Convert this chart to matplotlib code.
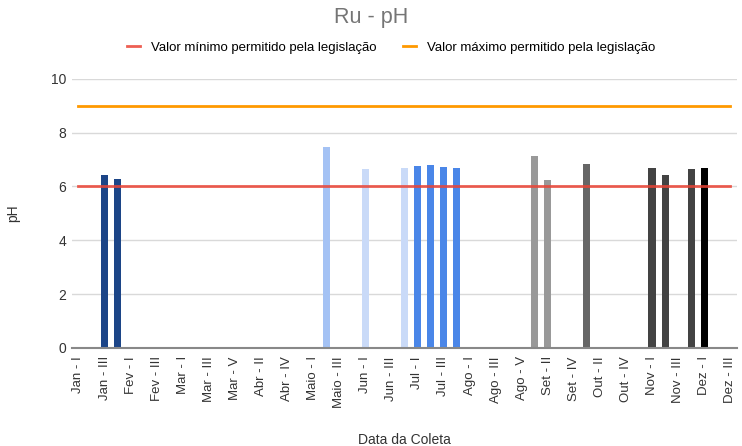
import matplotlib.pyplot as plt
import numpy as np

plt.rcParams['font.family'] = ['Liberation Sans', 'DejaVu Sans']

# categories (sample dates), in order
months = ['Jan', 'Fev', 'Mar', 'Abr', 'Maio', 'Jun', 'Jul', 'Ago', 'Set', 'Out', 'Nov', 'Dez']
weeks_per_month = [4, 4, 5, 5, 4, 4, 4, 5, 4, 5, 4, 3]
roman = ['I', 'II', 'III', 'IV', 'V']
categories = [f'{m} - {roman[i]}' for m, n in zip(months, weeks_per_month) for i in range(n)]

# measured pH values
sample_dates = ['Jan - III', 'Jan - IV', 'Maio - II', 'Jun - I', 'Jun - IV',
                'Jul - I', 'Jul - II', 'Jul - III', 'Jul - IV',
                'Set - I', 'Set - II', 'Out - I',
                'Nov - I', 'Nov - II', 'Nov - IV', 'Dez - I']
ph_values = [6.42, 6.28, 7.47, 6.64, 6.67,
             6.74, 6.79, 6.73, 6.68,
             7.13, 6.25, 6.82,
             6.68, 6.43, 6.64, 6.68]
bar_colors = ['#1c4587', '#1c4587', '#a4c2f4', '#c9daf8', '#c9daf8',
              '#4a86e8', '#4a86e8', '#4a86e8', '#4a86e8',
              '#999999', '#999999', '#666666',
              '#434343', '#434343', '#434343', '#000000']

ph_min = 6
ph_max = 9

fig = plt.figure(figsize=(7.42, 4.46), dpi=100)
ax = fig.add_axes([0.097, 0.22, 0.896, 0.6035])

x = np.arange(len(categories))
pos = [categories.index(d) for d in sample_dates]
ax.bar(pos, ph_values, width=0.55, color=bar_colors, zorder=2)

ax.plot([x[0], x[-1]], [ph_min, ph_min], color='#ea4335', lw=2, alpha=0.85,
        label='Valor mínimo permitido pela legislação', zorder=3)
ax.plot([x[0], x[-1]], [ph_max, ph_max], color='#ff9900', lw=2,
        label='Valor máximo permitido pela legislação', zorder=3)

ax.set_xlim(-0.5, len(categories) - 0.5)
ax.set_ylim(0, 10)
ax.set_yticks([0, 2, 4, 6, 8, 10])
ax.set_xticks(x[::2])
ax.set_xticklabels(categories[::2], rotation=90, fontsize=9.5, color='#333333')
ax.tick_params(axis='x', length=0, pad=6)
ax.tick_params(axis='y', length=0, labelsize=10, colors='#333333', pad=4)
ax.yaxis.grid(True, color='#d9d9d9', lw=1)
ax.set_axisbelow(True)
for s in ['top', 'right', 'left']:
    ax.spines[s].set_visible(False)
ax.spines['bottom'].set_color('#888888')
ax.spines['bottom'].set_linewidth(1.5)
ax.spines['bottom'].set_zorder(4)

ax.set_ylabel('pH', fontsize=10, color='#333333', labelpad=22)
ax.set_xlabel('Data da Coleta', fontsize=10, color='#333333', labelpad=18)

fig.suptitle('Ru - pH', y=0.985, fontsize=15.5, color='#757575')
fig.legend(loc='center', bbox_to_anchor=(0.527, 0.893), ncol=2, frameon=False,
           fontsize=9.5, handlelength=1.0, columnspacing=2.0, handletextpad=0.8)

fig.savefig('out.png', dpi=100)
